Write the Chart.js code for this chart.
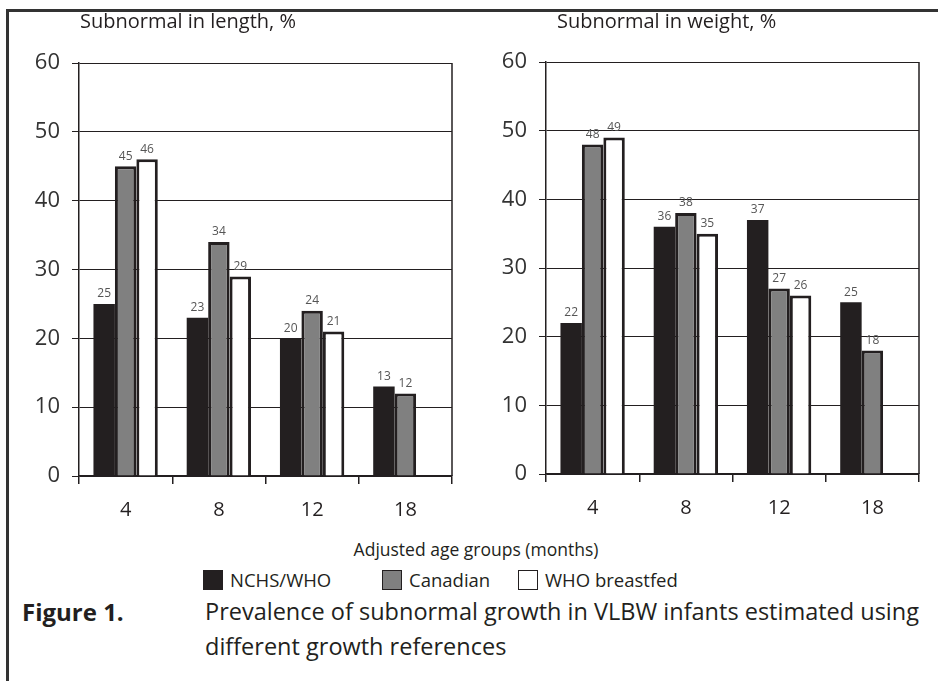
<!DOCTYPE html>
<html>
<head>
<meta charset="utf-8">
<script src="https://cdn.jsdelivr.net/npm/chart.js@4.4.1/dist/chart.umd.min.js"></script>
<style>
  body { margin: 0; width: 938px; height: 681px; overflow: hidden; background: #fff;
         font-family: "Open Sans", sans-serif; color: #231f20; position: relative; }
  #marco { position: absolute; left: 6px; top: 9px; width: 1000px; height: 700px;
           border-left: 3px solid #333; border-top: 3px solid #333; }
  canvas { position: absolute; top: 0; }
  #graficaLongitud { left: 0; }
  #graficaPeso { left: 467px; }
  #ejeX { position: absolute; left: 0; width: 952px; top: 537px; text-align: center;
          font-size: 17.5px; line-height: 24px; }
  .leyenda { position: absolute; top: 569px; height: 22px; font-size: 18.5px; line-height: 22px; white-space: nowrap; }
  .leyenda span.caja { display: inline-block; width: 20px; height: 20px; box-sizing: border-box;
                       vertical-align: top; margin-top: 1px; margin-right: 7px; }
  #figura { position: absolute; left: 22px; top: 594px; font-size: 24px; line-height: 35px; font-weight: bold; }
  #pie { position: absolute; left: 205px; top: 594px; width: 733px; font-size: 23.5px; line-height: 35px; white-space: nowrap; }
</style>
</head>
<body>
<div id="marco"></div>
<canvas id="graficaLongitud" width="468" height="530"></canvas>
<canvas id="graficaPeso" width="468" height="530"></canvas>
<div id="ejeX">Adjusted age groups (months)</div>
<div id="leyendaGrafica"></div>
<div id="figura">Figure 1.</div>
<div id="pie">Prevalence of subnormal growth in VLBW infants estimated using<br>different growth references</div>
<script>
// Datos
const edades = ['4', '8', '12', '18'];
const series = ['NCHS/WHO', 'Canadian', 'WHO breastfed'];
const ticksY = [0, 10, 20, 30, 40, 50, 60];

const longitudNCHS = [25, 23, 20, 13];
const longitudCanadian = [45, 34, 24, 12];
const longitudWHO = [46, 29, 21, null];

const pesoNCHS = [22, 36, 37, 25];
const pesoCanadian = [48, 38, 27, 18];
const pesoWHO = [49, 35, 26, null];

const rellenos = ['#231f20', '#808080', '#ffffff'];
const bordes = [0, 3, 3];

// Valores encima de cada barra
const etiquetasValores = {
    id: 'etiquetasValores',
    afterDatasetsDraw(chart) {
        const ctx = chart.ctx;
        ctx.save();
        ctx.font = '12px "Open Sans"';
        ctx.fillStyle = '#555';
        ctx.textAlign = 'center';
        ctx.textBaseline = 'bottom';
        chart.data.datasets.forEach((ds, i) => {
            chart.getDatasetMeta(i).data.forEach((barra, j) => {
                if (ds.data[j] == null) return;
                ctx.fillText(ds.data[j], barra.x, barra.y - 4);
            });
        });
        ctx.restore();
    }
};

// Título de cada panel, alineado con el área del gráfico
const tituloPanel = {
    id: 'tituloPanel',
    afterDraw(chart, args, opts) {
        const ctx = chart.ctx;
        ctx.save();
        ctx.font = '20px "Open Sans"';
        ctx.fillStyle = '#231f20';
        ctx.textBaseline = 'alphabetic';
        ctx.fillText(opts.texto, chart.chartArea.left + opts.dx, opts.y);
        ctx.restore();
    }
};

// Borde derecho del recuadro
const bordeDerecho = {
    id: 'bordeDerecho',
    beforeDatasetsDraw(chart) {
        const { ctx, chartArea } = chart;
        ctx.save();
        ctx.strokeStyle = '#231f20';
        ctx.lineWidth = 1.5;
        ctx.beginPath();
        ctx.moveTo(chartArea.right, chartArea.top);
        ctx.lineTo(chartArea.right, chartArea.bottom);
        ctx.stroke();
        ctx.restore();
    }
};

function crearGrafica(id, datos, titulo, dx, arriba, abajo) {
    return new Chart(document.getElementById(id), {
        type: 'bar',
        data: {
            labels: edades,
            datasets: datos.map((d, i) => ({
                label: series[i],
                data: d,
                backgroundColor: rellenos[i],
                borderColor: '#231f20',
                borderWidth: bordes[i],
                borderSkipped: 'bottom'
            }))
        },
        options: {
            responsive: false,
            animation: false,
            layout: { padding: { top: arriba, right: 16, left: 0, bottom: 0 } },
            datasets: { bar: { categoryPercentage: 0.69, barPercentage: 1 } },
            plugins: {
                legend: { display: false },
                tooltip: { enabled: false },
                tituloPanel: { texto: titulo, dx: dx, y: 28 }
            },
            scales: {
                x: {
                    afterFit: s => { s.height = 530 - abajo; },
                    grid: { offset: true, drawOnChartArea: false, drawTicks: true, tickLength: 8,
                            color: '#231f20', lineWidth: 1.5 },
                    border: { display: true, color: '#231f20', width: 1.5 },
                    ticks: { font: { family: 'Open Sans', size: 20 }, color: '#231f20', padding: 14 }
                },
                y: {
                    min: ticksY[0],
                    max: ticksY[ticksY.length - 1],
                    afterFit: s => { s.width = 79; },
                    grid: { color: '#231f20', lineWidth: 1, tickLength: 7 },
                    border: { display: true, color: '#231f20', width: 1.5 },
                    ticks: { stepSize: ticksY[1] - ticksY[0], font: { family: 'Open Sans', size: 22 },
                             color: '#333', padding: 12 }
                }
            }
        },
        plugins: [bordeDerecho, etiquetasValores, tituloPanel]
    });
}

crearGrafica('graficaLongitud', [longitudNCHS, longitudCanadian, longitudWHO],
             'Subnormal in length, %', 1, 63, 476);
crearGrafica('graficaPeso', [pesoNCHS, pesoCanadian, pesoWHO],
             'Subnormal in weight, %', 11, 62, 474);

// Leyenda común a los dos paneles
const posLeyenda = [203, 382, 518];
const leyenda = document.getElementById('leyendaGrafica');
series.forEach((s, i) => {
    const item = document.createElement('div');
    item.className = 'leyenda';
    item.style.left = posLeyenda[i] + 'px';
    const caja = document.createElement('span');
    caja.className = 'caja';
    caja.style.background = rellenos[i];
    if (i > 0) caja.style.border = '1.5px solid #231f20';
    item.appendChild(caja);
    item.appendChild(document.createTextNode(s));
    leyenda.appendChild(item);
});
</script>
</body>
</html>
